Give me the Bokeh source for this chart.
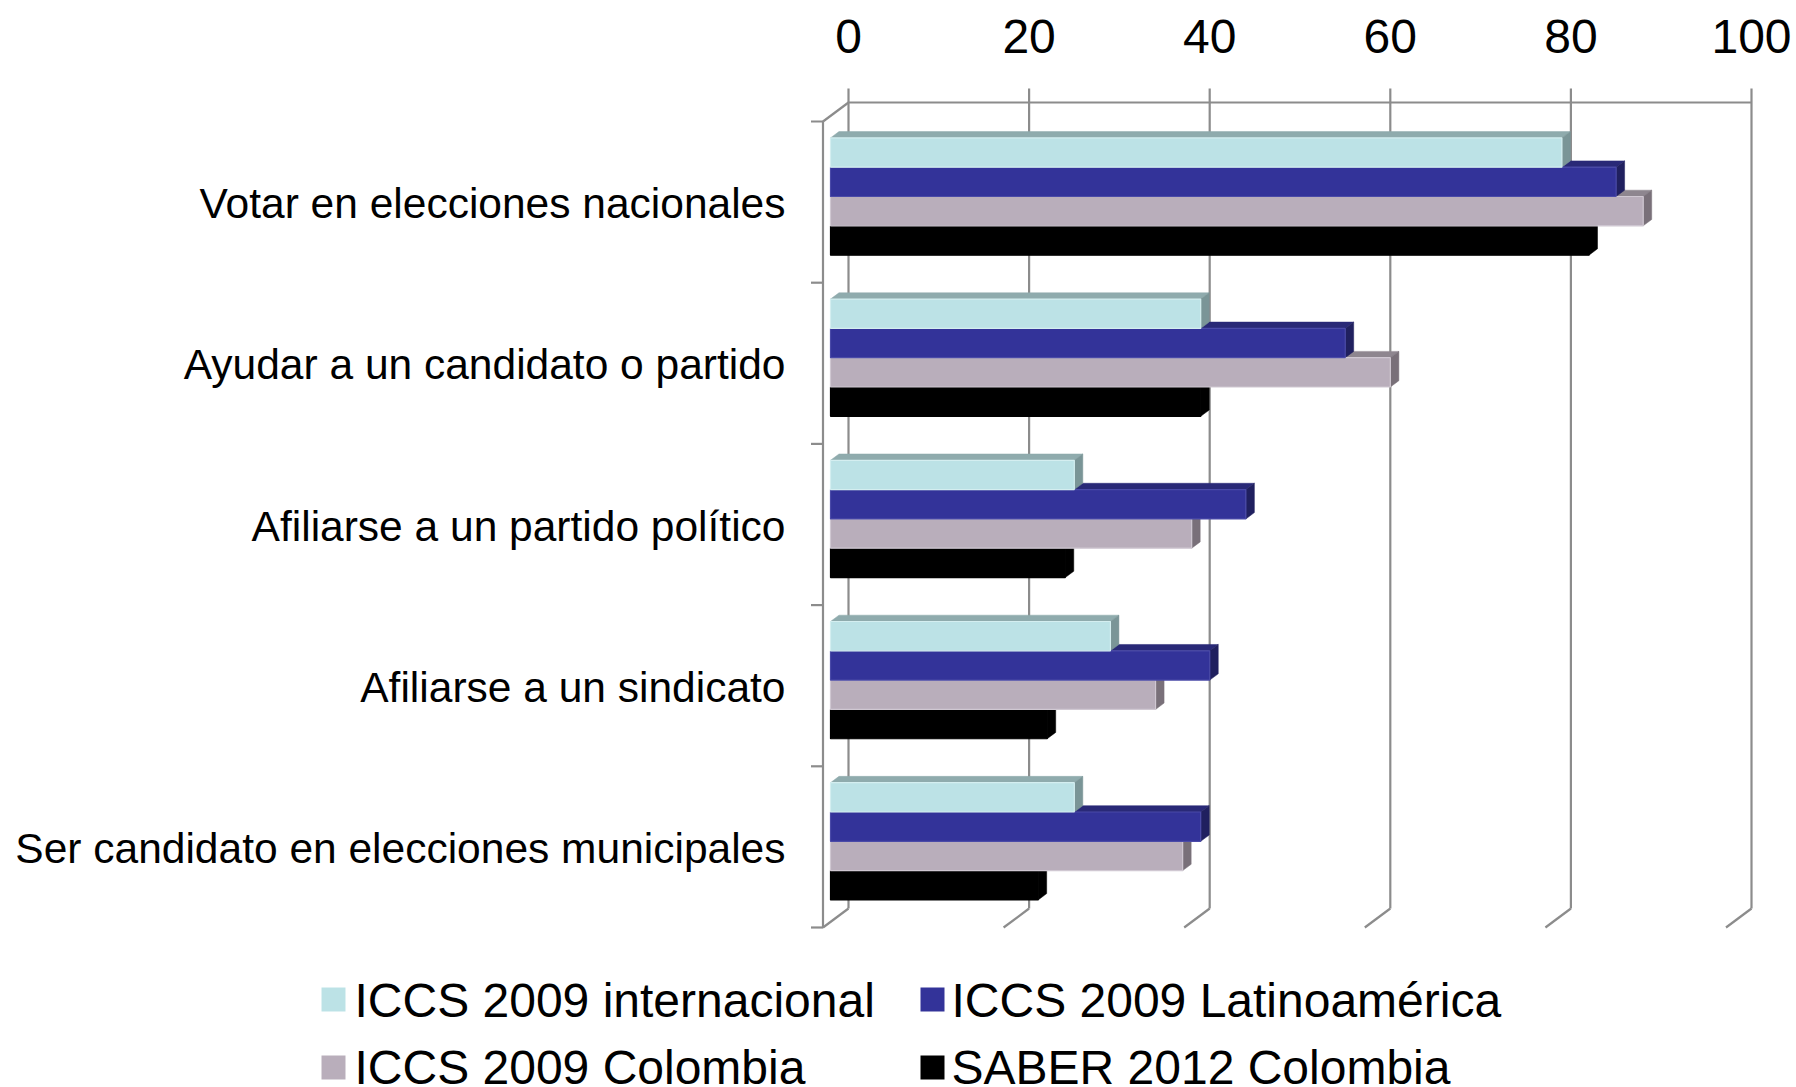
from bokeh.plotting import figure
from bokeh.models import Range1d
from bokeh.embed import file_html
from bokeh.resources import INLINE
from bokeh.core.properties import value

# ---------------- data ----------------
categories = [
    "Votar en elecciones nacionales",
    "Ayudar a un candidato o partido",
    "Afiliarse a un partido político",
    "Afiliarse a un sindicato",
    "Ser candidato en elecciones municipales",
]
series_names = [
    "ICCS 2009 internacional",
    "ICCS 2009 Latinoamérica",
    "ICCS 2009 Colombia",
    "SABER 2012 Colombia",
]
iccs_internacional = [81, 41, 27, 31, 27]
iccs_latinoamerica = [87, 57, 46, 42, 41]
iccs_colombia = [90, 62, 40, 36, 39]
saber_colombia = [84, 41, 26, 24, 23]
x_ticks = [0, 20, 40, 60, 80, 100]

series_values = [iccs_internacional, iccs_latinoamerica, iccs_colombia, saber_colombia]

# ---------------- styles ----------------
front_colors = ["#BCE2E6", "#333399", "#B9AEBB", "#000000"]
top_colors = ["#8FABAD", "#292977", "#8E868F", "#000000"]
side_colors = ["#7A9597", "#20205F", "#797079", "#000000"]
edge_colors = ["#D4EEF0", "#4A4AA8", "#D0C8D2", "#000000"]
grid_color = "#8C8C8C"
FONT = value("Liberation Sans")

W, H = 1796, 1087
PXV = 9.03      # px per value unit
PXC = 161.2     # px per category
X0, Y0 = 848, 102  # page px of back-wall origin
TXT_SHIFT = -16    # baseline correction for text glyphs (px)


def px_x(dx):
    return dx / PXV


def px_y(dy):
    return dy / PXC


def abs_x(X):
    return (X - X0) / PXV


def abs_y(Y):
    return (Y - Y0) / PXC


DXF = px_x(-25.5)   # full depth, back -> front
DYF = px_y(19.0)
F_FRONT = 0.706     # bar front face depth fraction
F_BACK = 0.373      # bar back face depth fraction
n_series = len(series_values)
bw = 1.0 / (n_series + 1.5)
n_cat = len(categories)

p = figure(
    width=W, height=H,
    x_range=Range1d(-X0 / PXV, (W - X0) / PXV),
    y_range=Range1d((H - Y0) / PXC, -Y0 / PXC),
    output_backend="svg", toolbar_location=None,
    x_axis_location=None, y_axis_location=None,
    min_border=0,
)
p.grid.visible = False
p.outline_line_color = None
p.background_fill_color = "white"
p.border_fill_color = "white"

# ---------------- walls / gridlines ----------------
vmax = x_ticks[-1]
stub = px_y(-14)
p.segment(x0=x_ticks, y0=[stub] * len(x_ticks), x1=x_ticks, y1=[n_cat] * len(x_ticks),
          line_color=grid_color, line_width=2.2)
p.segment(x0=[0], y0=[0], x1=[vmax], y1=[0], line_color=grid_color, line_width=2.2)
# floor diagonals
p.segment(x0=x_ticks, y0=[n_cat] * len(x_ticks),
          x1=[t + DXF for t in x_ticks], y1=[n_cat + DYF] * len(x_ticks),
          line_color=grid_color, line_width=2.2)
# left wall
p.segment(x0=[0], y0=[0], x1=[DXF], y1=[DYF], line_color=grid_color, line_width=2.2)
p.segment(x0=[DXF], y0=[DYF], x1=[DXF], y1=[n_cat + DYF], line_color=grid_color, line_width=2.2)
ticks_c = list(range(n_cat + 1))
p.segment(x0=[DXF] * len(ticks_c), y0=[c + DYF for c in ticks_c],
          x1=[DXF + px_x(-12)] * len(ticks_c), y1=[c + DYF for c in ticks_c],
          line_color=grid_color, line_width=2.2)

# ---------------- bars ----------------
tops = {k: [] for k in ("xs", "ys", "c")}
sides = {k: [] for k in ("xs", "ys", "c")}
fronts = {k: [] for k in ("l", "r", "t", "b", "c", "e")}
for j in reversed(range(n_series)):
    vals = series_values[j]
    for i, v in enumerate(vals):
        c_top = i + 0.5 - (n_series / 2) * bw + j * bw
        c_bot = c_top + bw
        xf0, xf1 = F_FRONT * DXF, v + F_FRONT * DXF
        xb0, xb1 = F_BACK * DXF, v + F_BACK * DXF
        yft, yfb = c_top + F_FRONT * DYF, c_bot + F_FRONT * DYF
        ybt, ybb = c_top + F_BACK * DYF, c_bot + F_BACK * DYF
        tops["xs"].append([xf0, xf1, xb1, xb0])
        tops["ys"].append([yft, yft, ybt, ybt])
        tops["c"].append(top_colors[j])
        sides["xs"].append([xf1, xb1, xb1, xf1])
        sides["ys"].append([yft, ybt, ybb, yfb])
        sides["c"].append(side_colors[j])
        fronts["l"].append(xf0)
        fronts["r"].append(xf1)
        fronts["t"].append(yft)
        fronts["b"].append(yfb)
        fronts["c"].append(front_colors[j])
        fronts["e"].append(edge_colors[j])

p.patches(xs=tops["xs"], ys=tops["ys"], fill_color=tops["c"], line_color=tops["c"], line_width=0.5)
p.patches(xs=sides["xs"], ys=sides["ys"], fill_color=sides["c"], line_color=sides["c"], line_width=0.5)
p.quad(left=fronts["l"], right=fronts["r"], top=fronts["t"], bottom=fronts["b"],
       fill_color=fronts["c"], line_color=fronts["e"], line_width=1.2)

# ---------------- category labels ----------------
p.text(x=[DXF + px_x(-37.5)] * n_cat,
       y=[i + 0.5 + DYF + px_y(17.5 + TXT_SHIFT) for i in range(n_cat)],
       text=categories, text_font=FONT, text_font_size="42.5px",
       text_align="right", text_baseline="alphabetic", text_color="black")

# ---------------- top axis labels ----------------
p.text(x=x_ticks, y=[abs_y(52 + TXT_SHIFT)] * len(x_ticks), text=[str(t) for t in x_ticks],
       text_font=FONT, text_font_size="48px", text_align="center",
       text_baseline="alphabetic", text_color="black")

# ---------------- legend ----------------
leg_sq_x = [321, 920, 321, 920]
leg_sq_y = [987, 987, 1055, 1055]
leg_tx_x = [354, 951, 354, 951]
leg_tx_y = [1016, 1016, 1083, 1083]
sq = 24
p.quad(left=[abs_x(x) for x in leg_sq_x], right=[abs_x(x + sq) for x in leg_sq_x],
       top=[abs_y(y) for y in leg_sq_y], bottom=[abs_y(y + sq) for y in leg_sq_y],
       fill_color=front_colors, line_color=None)
p.text(x=[abs_x(x) for x in leg_tx_x], y=[abs_y(y + TXT_SHIFT) for y in leg_tx_y], text=series_names,
       text_font=FONT, text_font_size="48px", text_align="left",
       text_baseline="alphabetic", text_color="black")

open("out.html", "w").write(file_html(p, INLINE))
